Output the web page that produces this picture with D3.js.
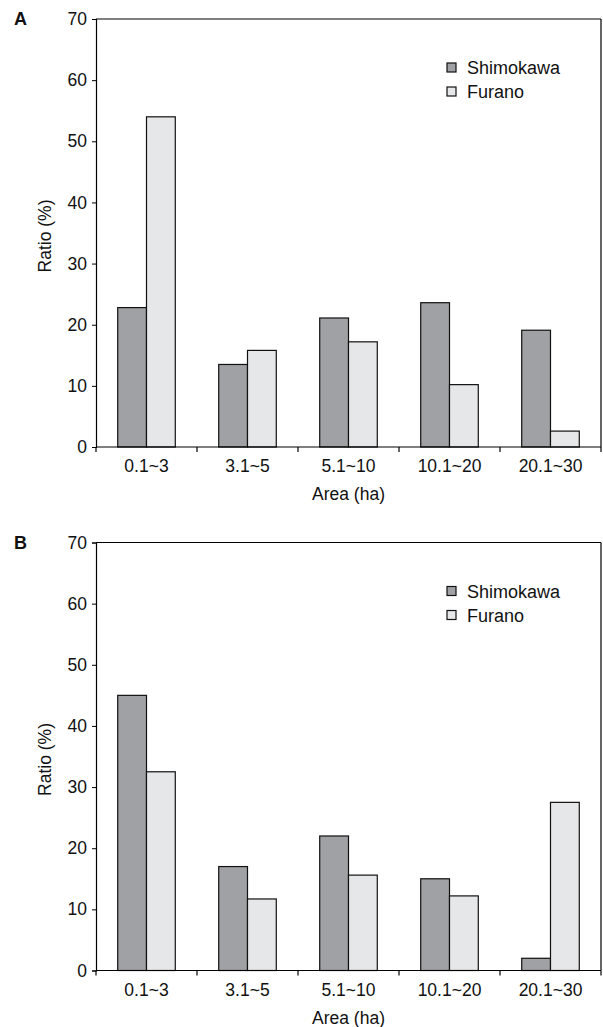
<!DOCTYPE html>
<html>
<head>
<meta charset="utf-8">
<script src="https://cdn.jsdelivr.net/npm/d3@7"></script>
<style>
  html, body { margin: 0; padding: 0; background: #fff; }
  svg { display: block; font-family: "Liberation Sans", Arial, sans-serif; }
</style>
</head>
<body>
<svg id="chart" width="603" height="1027"></svg>
<script>
const categories = ["0.1~3", "3.1~5", "5.1~10", "10.1~20", "20.1~30"];
const seriesNames = ["Shimokawa", "Furano"];
const panelLabels = ["A", "B"];
const shimokawaA = [22.8, 13.5, 21.1, 23.6, 19.1];
const furanoA = [54.0, 15.8, 17.2, 10.2, 2.6];
const shimokawaB = [45.0, 17.0, 22.0, 15.0, 2.0];
const furanoB = [32.5, 11.7, 15.6, 12.2, 27.5];
const yTicks = [0, 10, 20, 30, 40, 50, 60, 70];
const colors = ["#a0a1a5", "#e6e7e8"];

const svg = d3.select("#chart");
const FS = 17.5;

function drawPanel(label, s1, s2, top, bottom) {
  const left = 96, right = 601;
  const g = svg.append("g");
  const x = d3.scaleBand().domain(categories).range([left, right]).padding(0);
  const bw = x.bandwidth();
  const xs = d3.scaleBand().domain(seriesNames).range([bw * 0.215, bw * 0.785]).padding(0);
  const y = d3.scaleLinear().domain([0, 70]).range([bottom, top]);

  // frame top & right
  g.append("line").attr("x1", left).attr("x2", right).attr("y1", top).attr("y2", top)
    .attr("stroke", "#000").attr("stroke-width", 1.2);
  g.append("line").attr("x1", right).attr("x2", right).attr("y1", top).attr("y2", bottom)
    .attr("stroke", "#000").attr("stroke-width", 1.2);

  const rows = categories.map((c, i) => ({ c, vals: [s1[i], s2[i]] }));
  const grp = g.selectAll("g.cat").data(rows).join("g")
    .attr("transform", d => `translate(${x(d.c)},0)`);
  grp.selectAll("rect").data(d => d.vals.map((v, j) => ({ v, s: seriesNames[j], j })))
    .join("rect")
    .attr("x", d => xs(d.s))
    .attr("width", xs.bandwidth())
    .attr("y", d => y(d.v))
    .attr("height", d => y(0) - y(d.v))
    .attr("fill", d => colors[d.j])
    .attr("stroke", "#111")
    .attr("stroke-width", 1.2);

  // y axis
  const yAxis = g.append("g").attr("transform", `translate(${left},0)`)
    .call(d3.axisLeft(y).tickValues(yTicks).tickSize(4).tickPadding(5).tickFormat(d3.format("d")));
  yAxis.attr("font-family", null).attr("font-size", null);
  yAxis.select(".domain").attr("stroke-width", 1.2);
  yAxis.selectAll("text").style("font-size", FS + "px").attr("fill", "#111");

  // x axis: ticks at band boundaries
  const xAxisG = g.append("g").attr("transform", `translate(0,${bottom})`);
  xAxisG.append("line").attr("x1", left).attr("x2", right).attr("y1", 0).attr("y2", 0)
    .attr("stroke", "#000").attr("stroke-width", 1.2);
  const bounds = categories.map(c => x(c)).concat([right]);
  xAxisG.selectAll("line.tk").data(bounds).join("line").attr("class", "tk")
    .attr("x1", d => d).attr("x2", d => d).attr("y1", 0).attr("y2", 5)
    .attr("stroke", "#000").attr("stroke-width", 1.2);
  xAxisG.selectAll("text.cl").data(categories).join("text").attr("class", "cl")
    .attr("x", d => x(d) + bw / 2).attr("y", 25)
    .attr("text-anchor", "middle").style("font-size", FS + "px").attr("fill", "#111")
    .text(d => d);

  // axis titles
  g.append("text").attr("x", (left + right) / 2).attr("y", bottom + 53)
    .attr("text-anchor", "middle").style("font-size", FS + "px").attr("fill", "#111").text("Area (ha)");
  g.append("text").attr("transform", `translate(51,${(top + bottom) / 2 + 3}) rotate(-90)`)
    .attr("text-anchor", "middle").style("font-size", FS + "px").attr("fill", "#111").text("Ratio (%)");

  // panel label
  g.append("text").attr("x", 14).attr("y", top + 6).style("font-size", "18px").attr("font-weight", "bold")
    .attr("fill", "#111").text(label);

  // legend
  const leg = g.selectAll("g.leg").data(seriesNames).join("g").attr("class", "leg")
    .attr("transform", (d, i) => `translate(447,${top + 44 + i * 24})`);
  leg.append("rect").attr("width", 9).attr("height", 9)
    .attr("fill", (d, i) => colors[i]).attr("stroke", "#111").attr("stroke-width", 1.2);
  leg.append("text").attr("x", 20).attr("y", 11).style("font-size", "18px").attr("fill", "#111").text(d => d);
}

drawPanel(panelLabels[0], shimokawaA, furanoA, 19, 447);
drawPanel(panelLabels[1], shimokawaB, furanoB, 542.5, 970.5);
</script>
</body>
</html>
